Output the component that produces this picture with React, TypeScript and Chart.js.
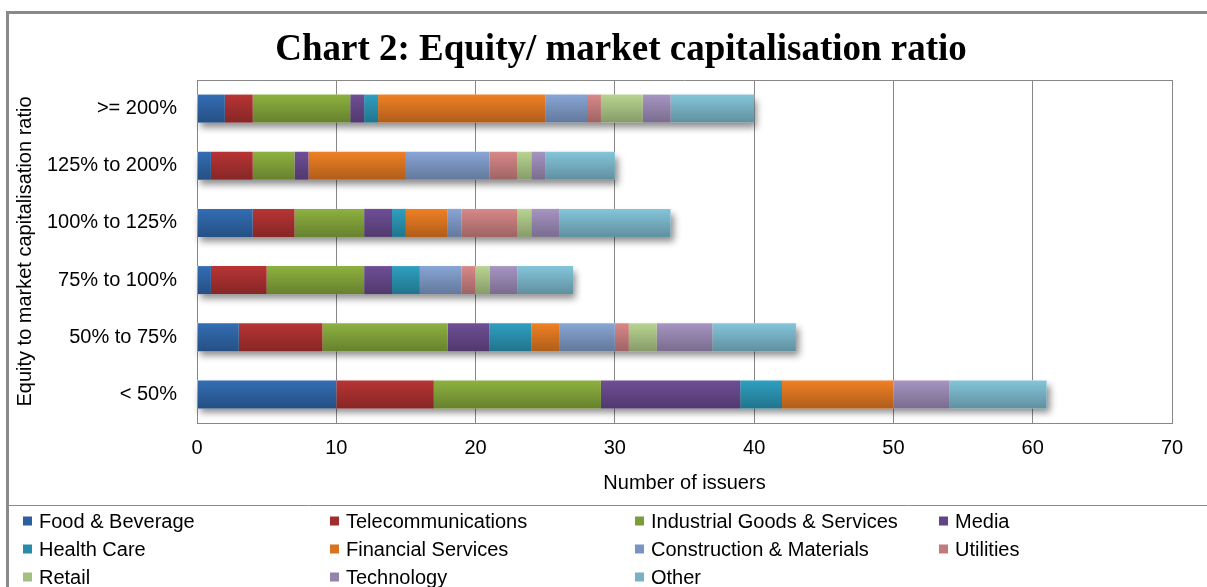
import React, { useEffect, useRef } from "react";
import { Chart, registerables } from "chart.js";

Chart.register(...registerables);

const categories = [">= 200%", "125% to 200%", "100% to 125%", "75% to 100%", "50% to 75%", "< 50%"];
const sectors = [
  "Food & Beverage",
  "Telecommunications",
  "Industrial Goods & Services",
  "Media",
  "Health Care",
  "Financial Services",
  "Construction & Materials",
  "Utilities",
  "Retail",
  "Technology",
  "Other",
];
const foodBeverage = [2, 1, 4, 1, 3, 10];
const telecommunications = [2, 3, 3, 4, 6, 7];
const industrialGoods = [7, 3, 5, 7, 9, 12];
const media = [1, 1, 2, 2, 3, 10];
const healthCare = [1, 0, 1, 2, 3, 3];
const financialServices = [12, 7, 3, 0, 2, 8];
const constructionMaterials = [3, 6, 1, 3, 4, 0];
const utilities = [1, 2, 4, 1, 1, 0];
const retail = [3, 1, 1, 1, 2, 0];
const technology = [2, 1, 2, 2, 4, 4];
const other = [6, 5, 8, 4, 6, 7];
const xTickValues = [0, 10, 20, 30, 40, 50, 60, 70];

const seriesValues = [
  foodBeverage,
  telecommunications,
  industrialGoods,
  media,
  healthCare,
  financialServices,
  constructionMaterials,
  utilities,
  retail,
  technology,
  other,
];
const barColors = [
  "#336db4",
  "#b83434",
  "#8db13f",
  "#6e4e96",
  "#2e9fc0",
  "#f08024",
  "#88a5d5",
  "#d88888",
  "#b8d490",
  "#a694c2",
  "#84c5da",
];
const legendColors = [
  "#2c5f9e",
  "#a12d2d",
  "#7b9c38",
  "#614585",
  "#288ca9",
  "#d8731f",
  "#7a93c0",
  "#c27b7b",
  "#a4bf80",
  "#9582ad",
  "#76b1c4",
];

const SANS = '"Liberation Sans", Arial, sans-serif';
const GRID = "#878787";

const decorPlugin = {
  id: "decor",
  beforeDraw(chart: any) {
    const { ctx, width, height } = chart;
    ctx.save();
    ctx.fillStyle = "#ffffff";
    ctx.fillRect(0, 0, width, height);
    ctx.strokeStyle = "#8a8a8a";
    ctx.lineWidth = 3;
    ctx.beginPath();
    ctx.moveTo(7.5, height);
    ctx.lineTo(7.5, 12.5);
    ctx.lineTo(width, 12.5);
    ctx.stroke();
    ctx.lineWidth = 1;
    ctx.beginPath();
    ctx.moveTo(9, 505.5);
    ctx.lineTo(width, 505.5);
    ctx.stroke();
    // title
    ctx.fillStyle = "#000";
    ctx.font = 'bold 37px "Liberation Serif", "Times New Roman", serif';
    ctx.textAlign = "center";
    ctx.textBaseline = "middle";
    ctx.fillText("Chart 2: Equity/ market capitalisation ratio", 621, 50);
    ctx.restore();
  },
  beforeDatasetsDraw(chart: any) {
    const { ctx, chartArea } = chart;
    ctx.save();
    ctx.strokeStyle = GRID;
    ctx.lineWidth = 1;
    ctx.beginPath();
    ctx.moveTo(chartArea.left, Math.round(chartArea.top) + 0.5);
    ctx.lineTo(chartArea.right, Math.round(chartArea.top) + 0.5);
    ctx.stroke();
    const xScale = chart.scales.x;
    const meta0 = chart.getDatasetMeta(0);
    categories.forEach((_, j) => {
      const el = meta0.data[j];
      if (!el) return;
      const { y, height } = el.getProps(["y", "height"], true);
      let total = 0;
      seriesValues.forEach((s) => (total += s[j]));
      const x0 = xScale.getPixelForValue(0);
      const x1 = xScale.getPixelForValue(total);
      ctx.shadowColor = "rgba(0,0,0,0.45)";
      ctx.shadowBlur = 7;
      ctx.shadowOffsetX = 3;
      ctx.shadowOffsetY = 5;
      ctx.fillStyle = "#ffffff";
      ctx.fillRect(x0, y - height / 2, x1 - x0, height);
    });
    ctx.restore();
  },
  afterDatasetsDraw(chart: any) {
    const { ctx } = chart;
    const xScale = chart.scales.x;
    const meta0 = chart.getDatasetMeta(0);
    ctx.save();
    categories.forEach((_, j) => {
      const el = meta0.data[j];
      if (!el) return;
      const { y, height } = el.getProps(["y", "height"], true);
      let total = 0;
      seriesValues.forEach((s) => (total += s[j]));
      const x0 = xScale.getPixelForValue(0);
      const x1 = xScale.getPixelForValue(total);
      const g = ctx.createLinearGradient(0, y - height / 2, 0, y + height / 2);
      g.addColorStop(0, "rgba(0,0,0,0)");
      g.addColorStop(1, "rgba(0,0,0,0.27)");
      ctx.fillStyle = g;
      ctx.fillRect(x0, y - height / 2, x1 - x0, height);
    });
    ctx.restore();
  },
  afterDraw(chart: any) {
    const { ctx } = chart;
    const colX = [23, 330, 635, 939];
    const rowY = [521, 549, 577];
    ctx.save();
    ctx.font = `20px ${SANS}`;
    ctx.textAlign = "left";
    ctx.textBaseline = "middle";
    chart.data.datasets.forEach((ds: any, i: number) => {
      const x = colX[i % 4];
      const y = rowY[Math.floor(i / 4)];
      ctx.fillStyle = legendColors[i];
      ctx.fillRect(x, y - 4.5, 9, 9);
      ctx.fillStyle = "#000";
      ctx.fillText(ds.label, x + 16, y + 1);
    });
    ctx.restore();
  },
};

export default function App() {
  const canvasRef = useRef<HTMLCanvasElement | null>(null);

  useEffect(() => {
    if (!canvasRef.current) return;
    const chart = new Chart(canvasRef.current, {
      type: "bar",
      data: {
        labels: categories,
        datasets: sectors.map((name, i) => ({
          label: name,
          data: seriesValues[i],
          backgroundColor: barColors[i],
          borderWidth: 0,
          barPercentage: 0.49,
          categoryPercentage: 1,
        })),
      },
      options: {
        indexAxis: "y",
        responsive: false,
        animation: false,
        devicePixelRatio: 1,
        layout: { padding: { left: 0, top: 80, right: 35, bottom: 87 } },
        plugins: {
          legend: { display: false },
          title: { display: false },
          tooltip: { enabled: false },
        },
        scales: {
          x: {
            stacked: true,
            min: 0,
            max: 70,
            afterBuildTicks: (scale: any) => {
              scale.ticks = xTickValues.map((v) => ({ value: v }));
            },
            afterFit: (scale: any) => {
              scale.height = 77;
            },
            grid: { color: GRID, lineWidth: 1, drawTicks: false },
            border: { color: GRID, width: 1 },
            ticks: {
              color: "#000",
              font: { family: SANS, size: 20 },
              padding: 13,
              maxRotation: 0,
            },
            title: {
              display: true,
              text: "Number of issuers",
              color: "#000",
              font: { family: SANS, size: 20 },
              padding: { top: 0, bottom: 5 },
            },
          },
          y: {
            stacked: true,
            afterFit: (scale: any) => {
              scale.width = 197;
            },
            grid: { display: false, drawTicks: false },
            border: { display: true, color: GRID, width: 1 },
            ticks: {
              color: "#000",
              font: { family: SANS, size: 20 },
              padding: 20,
            },
            title: {
              display: true,
              text: "Equity to market capitalisation ratio",
              color: "#000",
              font: { family: SANS, size: 20 },
              padding: { top: 13, bottom: 0 },
            },
          },
        },
      },
      plugins: [decorPlugin],
    } as any);
    return () => chart.destroy();
  }, []);

  return (
    <div style={{ position: "fixed", left: 0, top: 0, width: 1207, height: 587, background: "#fff" }}>
      <canvas ref={canvasRef} width={1207} height={587} style={{ width: 1207, height: 587, display: "block" }} />
    </div>
  );
}
